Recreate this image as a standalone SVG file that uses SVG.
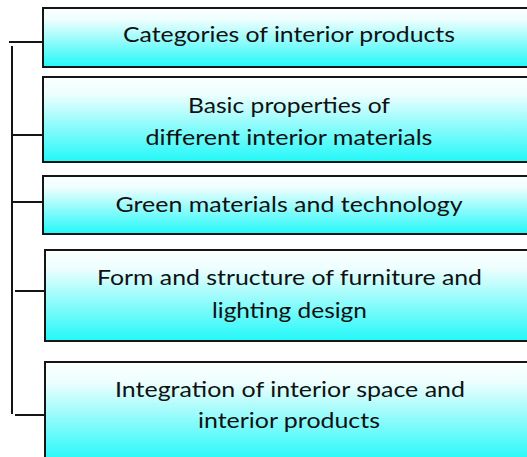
<svg xmlns="http://www.w3.org/2000/svg" width="527" height="457" viewBox="0 0 527 457">
<defs>
<linearGradient id="g" x1="0" y1="0" x2="0" y2="1">
<stop offset="0" stop-color="#fbffff"/>
<stop offset="0.2" stop-color="#eefefe"/>
<stop offset="1" stop-color="#22f8f8"/>
</linearGradient>
</defs>
<style>
.box{fill:url(#g);stroke:#151515;stroke-width:2}
.t{font-family:Lato,"Liberation Sans",sans-serif;font-size:21px;fill:#111;text-anchor:middle}
.c{stroke:#151515;stroke-width:2;fill:none}
</style>
<g id="connectors">
<line class="c" x1="9" y1="42" x2="43" y2="42"/>
<line class="c" x1="12" y1="46" x2="12" y2="414"/>
<line class="c" x1="12" y1="135" x2="43" y2="135"/>
<line class="c" x1="12" y1="202" x2="43" y2="202"/>
<line class="c" x1="15" y1="291" x2="45" y2="291"/>
<line class="c" x1="15" y1="415" x2="45" y2="415"/>
</g>
<g id="n1">
<rect class="box" x="43" y="8" width="492" height="59"/>
<text class="t" x="289" y="42" textLength="332" lengthAdjust="spacingAndGlyphs">Categories of interior products</text>
</g>
<g id="n2">
<rect class="box" x="43" y="77" width="492" height="85"/>
<text class="t" x="289" y="113" textLength="202" lengthAdjust="spacingAndGlyphs">Basic properties of</text>
<text class="t" x="289" y="145" textLength="287" lengthAdjust="spacingAndGlyphs">different interior materials</text>
</g>
<g id="n3">
<rect class="box" x="43" y="176" width="492" height="58"/>
<text class="t" x="289" y="212" textLength="347" lengthAdjust="spacingAndGlyphs">Green materials and technology</text>
</g>
<g id="n4">
<rect class="box" x="45" y="250" width="492" height="91"/>
<text class="t" x="289.5" y="285" textLength="385" lengthAdjust="spacingAndGlyphs">Form and structure of furniture and</text>
<text class="t" x="289.5" y="318" textLength="155" lengthAdjust="spacingAndGlyphs">lighting design</text>
</g>
<g id="n5">
<rect class="box" x="45" y="362" width="492" height="100"/>
<text class="t" x="290" y="397" textLength="350" lengthAdjust="spacingAndGlyphs">Integration of interior space and</text>
<text class="t" x="289" y="428" textLength="182" lengthAdjust="spacingAndGlyphs">interior products</text>
</g>
</svg>
